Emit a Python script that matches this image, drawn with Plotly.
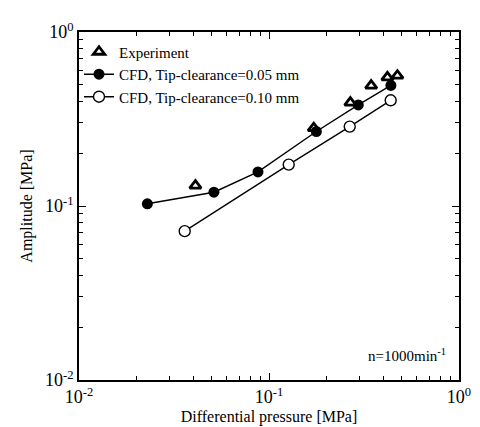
import plotly.graph_objects as go

# Data
exp_x = [0.041, 0.172, 0.268, 0.345, 0.42, 0.474]
exp_y = [0.131, 0.280, 0.393, 0.492, 0.549, 0.561]

cfd05_x = [0.0229, 0.0513, 0.0875, 0.1775, 0.295, 0.438]
cfd05_y = [0.103, 0.120, 0.157, 0.268, 0.381, 0.493]

cfd10_x = [0.036, 0.127, 0.266, 0.437]
cfd10_y = [0.0717, 0.173, 0.286, 0.405]

x_tickvals = [0.01, 0.1, 1]
x_ticktext = ["10<sup>-2</sup>", "10<sup>-1</sup>", "10<sup>0</sup>"]
y_tickvals = [0.01, 0.1, 1]
y_ticktext = ["10<sup>-2</sup>", "10<sup>-1</sup>", "10<sup>0</sup>"]

minor_vals = [m * d for d in (0.01, 0.1) for m in range(2, 10)]

FONT = "Liberation Serif"

fig = go.Figure()
fig.add_trace(go.Scatter(
    x=exp_x, y=exp_y, mode="markers", name="Experiment",
    marker=dict(symbol="triangle-up-open", size=10, color="black",
                line=dict(color="black", width=2.8)),
))
fig.add_trace(go.Scatter(
    x=cfd05_x, y=cfd05_y, mode="lines+markers",
    name="CFD, Tip-clearance=0.05 mm",
    line=dict(color="black", width=1.4),
    marker=dict(symbol="circle", size=11, color="black"),
))
fig.add_trace(go.Scatter(
    x=cfd10_x, y=cfd10_y, mode="lines+markers",
    name="CFD, Tip-clearance=0.10 mm",
    line=dict(color="black", width=1.4),
    marker=dict(symbol="circle", size=11, color="white",
                line=dict(color="black", width=1.4)),
))

axis_common = dict(
    type="log", showgrid=False, zeroline=False,
    showline=True, linecolor="black", linewidth=1.6, mirror="allticks",
    ticks="inside", ticklen=7, tickwidth=1.2, tickcolor="black",
    minor=dict(ticks="inside", ticklen=4, tickwidth=1.2, tickcolor="black",
               tickvals=minor_vals, showgrid=False),
    tickfont=dict(family=FONT, size=18, color="black"),
)

fig.update_xaxes(range=[-2, 0], tickvals=x_tickvals, ticktext=x_ticktext,
                 title=dict(text="Differential pressure [MPa]",
                            font=dict(family=FONT, size=16, color="black"),
                            standoff=4),
                 **axis_common)
fig.update_yaxes(range=[-2, 0], tickvals=y_tickvals, ticktext=y_ticktext,
                 title=dict(text="Amplitude [MPa]",
                            font=dict(family=FONT, size=16, color="black"),
                            standoff=8),
                 **axis_common)

fig.add_annotation(
    x=0.97, y=0.04, xref="paper", yref="paper", xanchor="right", yanchor="bottom",
    text="n=1000min<sup>-1</sup>", showarrow=False,
    font=dict(family=FONT, size=15, color="black"),
)

fig.update_layout(
    width=480, height=427,
    margin=dict(l=71, r=29, t=19, b=54),
    paper_bgcolor="white", plot_bgcolor="white",
    showlegend=True,
    legend=dict(x=0.0, y=0.99, xanchor="left", yanchor="top",
                bgcolor="rgba(0,0,0,0)", borderwidth=0,
                font=dict(family=FONT, size=15, color="black"),
                tracegroupgap=0, itemwidth=30),
    font=dict(family=FONT, color="black"),
)

fig.write_html("out.html")
